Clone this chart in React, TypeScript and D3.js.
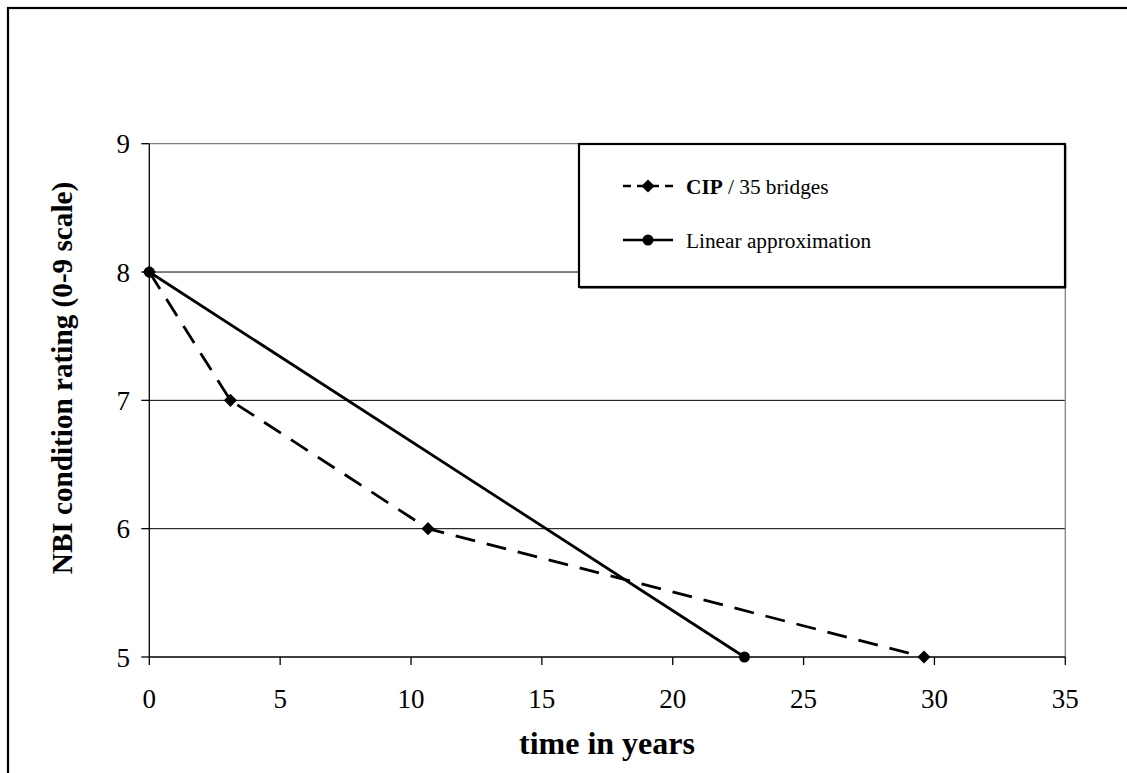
import React from "react";
import * as d3 from "d3";

const cipYears = [0, 3.1, 10.65, 29.6];
const cipRatings = [8, 7, 6, 5];
const linYears = [0, 22.74];
const linRatings = [8, 5];
const xTicks = [0, 5, 10, 15, 20, 25, 30, 35];
const yTicks = [5, 6, 7, 8, 9];
const xTitle = "time in years";
const yTitle = "NBI condition rating (0-9 scale)";

const W = 1127;
const H = 773;

export default function App() {
  const x = d3.scaleLinear().domain([0, 35]).range([149.3, 1065.3]);
  const y = d3.scaleLinear().domain([5, 9]).range([657, 143.7]);
  const line = d3
    .line<[number, number]>()
    .x((d) => x(d[0]))
    .y((d) => y(d[1]));
  const cip: [number, number][] = cipYears.map((v, i) => [v, cipRatings[i]]);
  const lin: [number, number][] = linYears.map((v, i) => [v, linRatings[i]]);
  const diamond = d3.symbol().type(d3.symbolDiamond2).size(110)() as string;
  const font = "'Liberation Serif', 'Times New Roman', serif";
  const legY1 = 186;
  const legY2 = 240;

  return (
    <svg
      width={W}
      height={H}
      style={{ position: "absolute", left: 0, top: 0, background: "#fff" }}
      fontFamily={font}
    >
      <rect x={0} y={0} width={W} height={H} fill="#fff" />
      {/* outer frame */}
      <rect x={8} y={8} width={1200} height={900} fill="none" stroke="#000" strokeWidth={2.2} />

      {/* gridlines */}
      {yTicks
        .filter((t) => t !== 5 && t !== 9)
        .map((t) => (
          <line key={t} x1={x(0)} x2={x(35)} y1={y(t)} y2={y(t)} stroke="#000" strokeWidth={1} />
        ))}
      {/* plot border top/right in gray */}
      <line x1={x(0)} x2={x(35)} y1={y(9)} y2={y(9)} stroke="#808080" strokeWidth={1.3} />
      <line x1={x(35)} x2={x(35)} y1={y(9)} y2={y(5)} stroke="#808080" strokeWidth={1.3} />

      {/* axes */}
      <line x1={x(0)} x2={x(0)} y1={y(9)} y2={y(5)} stroke="#000" strokeWidth={1.3} />
      <line x1={x(0)} x2={x(35)} y1={y(5)} y2={y(5)} stroke="#000" strokeWidth={1.3} />
      {yTicks.map((t) => (
        <g key={"yt" + t}>
          <line x1={x(0) - 8} x2={x(0)} y1={y(t)} y2={y(t)} stroke="#000" strokeWidth={1.3} />
          <text x={130} y={y(t) + 9.5} textAnchor="end" fontSize={27}>
            {t}
          </text>
        </g>
      ))}
      {xTicks.map((t) => (
        <g key={"xt" + t}>
          <line x1={x(t)} x2={x(t)} y1={y(5)} y2={y(5) + 8} stroke="#000" strokeWidth={1.3} />
          <text x={x(t)} y={708} textAnchor="middle" fontSize={27}>
            {t}
          </text>
        </g>
      ))}

      {/* series */}
      <path d={line(cip) as string} fill="none" stroke="#000" strokeWidth={2.8} strokeDasharray="20,12" />
      <path d={line(lin) as string} fill="none" stroke="#000" strokeWidth={2.8} />
      {lin.map((d, i) => (
        <circle key={"c" + i} cx={x(d[0])} cy={y(d[1])} r={5.5} fill="#000" />
      ))}
      {cip.map((d, i) => (
        <path key={"d" + i} d={diamond} transform={`translate(${x(d[0])},${y(d[1])})`} fill="#000" />
      ))}

      {/* legend */}
      <rect x={579} y={144} width={486} height={143} fill="#fff" stroke="#000" strokeWidth={2.2} />
      <line x1={1065.5} x2={1065.5} y1={145} y2={288} stroke="#000" strokeWidth={1.5} />
      <line x1={580} x2={1066} y1={287.8} y2={287.8} stroke="#000" strokeWidth={1.5} />
      <line x1={623} x2={673} y1={legY1} y2={legY1} stroke="#000" strokeWidth={2.5} strokeDasharray="8,6" />
      <path d={diamond} transform={`translate(648,${legY1})`} fill="#000" />
      <text x={686} y={legY1 + 7.5} fontSize={21.3}>
        <tspan fontWeight="bold">CIP</tspan>
        <tspan> / 35 bridges</tspan>
      </text>
      <line x1={623} x2={673} y1={legY2} y2={legY2} stroke="#000" strokeWidth={2.5} />
      <circle cx={648} cy={legY2} r={5.5} fill="#000" />
      <text x={686} y={legY2 + 7.5} fontSize={21.3}>
        Linear approximation
      </text>

      {/* axis titles */}
      <text x={607} y={754} textAnchor="middle" fontSize={32} fontWeight="bold">
        {xTitle}
      </text>
      <text
        transform={`translate(72,378) rotate(-90)`}
        textAnchor="middle"
        fontSize={29.2}
        fontWeight="bold"
      >
        {yTitle}
      </text>
    </svg>
  );
}
